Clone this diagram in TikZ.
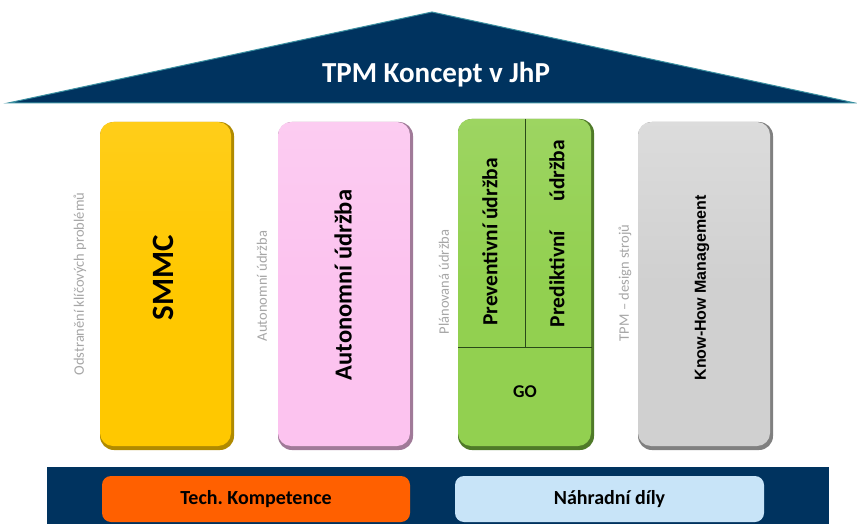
\documentclass[tikz,border=0pt]{standalone}
\usepackage{fontspec}
\setmainfont{Carlito}
\newfontfamily\arialfont{Liberation Sans}
\usetikzlibrary{positioning}
\definecolor{navy}{HTML}{00335F}
\definecolor{roofedge}{HTML}{3A8FA0}
\definecolor{yfill}{HTML}{FFC800}
\definecolor{ydark}{HTML}{B08A00}
\definecolor{pfill}{HTML}{FCC3EF}
\definecolor{pdark}{HTML}{A07A98}
\definecolor{gfill}{HTML}{92D050}
\definecolor{gdark}{HTML}{4F7A28}
\definecolor{kfill}{HTML}{D0D0D0}
\definecolor{kdark}{HTML}{808080}
\definecolor{orangebox}{HTML}{FF6000}
\definecolor{bluebox}{HTML}{C8E4F8}
\definecolor{labelgray}{HTML}{A6A6A6}
\definecolor{divline}{HTML}{2A4A18}
\tikzset{
  pillarback/.style={rounded corners=14pt, inner sep=0pt, minimum width=#1, minimum height=328pt},
  pillarfront/.style={rounded corners=13pt, inner sep=0pt, minimum width=#1, minimum height=324pt},
  sidelabel/.style={rotate=90, text=labelgray, font=\fontsize{14.5}{16}\selectfont},
  basebox/.style={rounded corners=9pt, inner sep=0pt, minimum height=46pt, font=\bfseries\fontsize{20}{22}\selectfont},
}
\frenchspacing
\begin{document}
\begin{tikzpicture}[x=1pt,y=-1pt]
\useasboundingbox[fill=white] (0,0) rectangle (857,524);
% roof
\coordinate (rl) at (8,103);
\coordinate (rt) at (432,12);
\coordinate (rr) at (855,103);
\draw[fill=navy, draw=roofedge, line width=1pt, line join=miter] (rl) -- (rt) -- (rr) -- cycle;
\node[text=white, font=\bfseries\fontsize{29}{31}\selectfont] (title) at (436,75) {TPM Koncept v JhP};
% pillar 1
\node[pillarback=134pt, fill=ydark] (smmcS) at (167,286) {};
\node[pillarfront=131pt, top color=yfill!90!white, bottom color=yfill, middle color=yfill] (smmc) at (165.5,284) {};
\node[rotate=90, font=\bfseries\fontsize{31}{33}\selectfont] (smmcT) at (163,278) {SMMC};
% pillar 2
\node[pillarback=135pt, fill=pdark] (autoS) at (345.5,286) {};
\node[pillarfront=132pt, top color=pfill!85!white, bottom color=pfill, middle color=pfill] (auto) at (344,284) {};
\node[rotate=90, font=\bfseries\fontsize{24.5}{26}\selectfont] (autoT) at (343,285) {Autonomní údržba};
% pillar 3
\node[pillarback=136pt, minimum height=331pt, fill=gdark] (planS) at (526,284.5) {};
\node[pillarfront=133pt, minimum height=327pt, top color=gfill!90!white, bottom color=gfill, middle color=gfill] (plan) at (524.5,282.5) {};
\coordinate (hl) at (458,347);
\coordinate (hr) at (592,347);
\coordinate (vt) at (525,119);
\coordinate (vb) at (525,347);
\draw[divline, line width=0.9pt] (hl) -- (hr);
\draw[divline, line width=0.9pt] (vt) -- (vb);
\node[rotate=90, font=\bfseries\fontsize{21.5}{23}\selectfont] (prev) at (490,242) {Preventivní údržba};
\node[rotate=90, font=\bfseries\fontsize{21.5}{23}\selectfont] (pred) at (557,233.5) {\makebox[187pt][s]{Prediktivní\hfill údržba}};
\node[font=\bfseries\fontsize{18}{20}\selectfont] (go) at (525,392) {GO};
% pillar 4
\node[pillarback=135pt, fill=kdark] (knowS) at (705.5,286) {};
\node[pillarfront=132pt, top color=kfill!75!white, bottom color=kfill, middle color=kfill] (know) at (704,284) {};
\node[rotate=90, font=\arialfont\bfseries\fontsize{16}{18}\selectfont] (knowT) at (702,288) {Know-How Management};
% side labels
\node[sidelabel] (l1) at (80,284) {Odstranění klíčových problémů};
\node[sidelabel] (l2) at (262,286) {Autonomní údržba};
\node[sidelabel] (l3) at (444,282) {Plánovaná údržba};
\node[sidelabel] (l4) at (625,283) {TPM – design strojů};
% base
\node[fill=navy, inner sep=0pt, minimum width=782pt, minimum height=57pt] (base) at (438,495.5) {};
\node[basebox, fill=orangebox, minimum width=308pt] (tech) at (256,499) {Tech. Kompetence};
\node[basebox, fill=bluebox, minimum width=309pt] (parts) at (609.5,499) {Náhradní díly};
\end{tikzpicture}
\end{document}
